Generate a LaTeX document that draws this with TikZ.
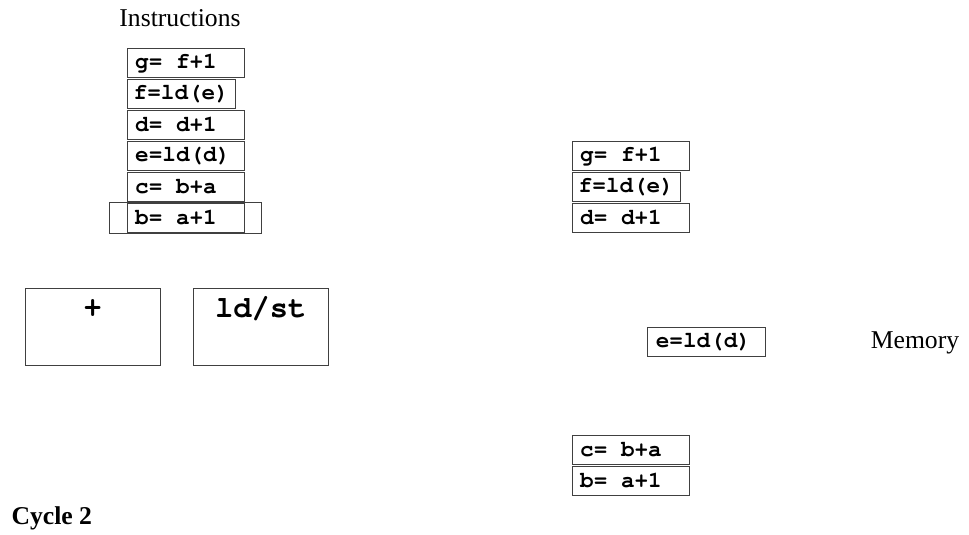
\documentclass[tikz,border=0pt]{standalone}
\usepackage[T1]{fontenc}
\usepackage{fontspec}
\setmainfont{Liberation Serif}
\newcommand{\codefam}{\fontencoding{T1}\fontfamily{pcr}\fontseries{b}}
\newcommand{\codefont}{\codefam\fontsize{12.9}{14}\selectfont}
\newcommand{\opfont}{\codefam\fontsize{17.3}{19}\selectfont}
\newcommand{\labelfont}{\fontsize{14.6}{18}\selectfont}

\tikzset{
  instrbox/.style={draw=black!75, font=\codefont, inner xsep=0.13cm, inner ysep=0pt, minimum height=0.58cm, anchor=north west},
  instr/.style={instrbox, inner xsep=0.16cm, text width=2.026cm, text justified,
    execute at begin node={\spaceskip=0.6em\relax}},
  unit/.style={draw=black!75, minimum width=2.7cm, minimum height=1.546cm},
  oplabel/.style={font=\opfont, inner sep=0pt},
  caption/.style={font=\labelfont, inner sep=0pt},
}

\begin{document}
\begin{tikzpicture}[x=0.02cm, y=-0.02cm, line width=0.6pt]
  \useasboundingbox (0,0) rectangle (969,534);

  % 指令队列
  \node[caption] (instrtitle) at (180,18) {Instructions};
  \node[draw=black!75, minimum width=3.034cm, minimum height=0.62cm] (issue) at (185.2,217.8) {};
  \node[instr] (ig) at (126.7,47.7) {g= f+1};
  \node[instrbox] (if) at (126.7,78.7) {f=ld(e)};
  \node[instr] (id) at (126.7,109.7) {d= d+1};
  \node[instr] (ie) at (126.7,140.7) {e=ld(d)};
  \node[instr] (ic) at (126.7,171.7) {c= b+a};
  \node[instr] (ib) at (126.7,202.7) {b= a+1};

  % 功能单元
  \node[unit] (add) at (92.8,326.7) {};
  \node[oplabel] (addlbl) at (92.8,309.3) {+};
  \node[unit] (ldst) at (260.8,326.7) {};
  \node[oplabel] (ldstlbl) at (260.8,309.3) {ld/st};

  % 存储器一侧
  \node[instr] (rg) at (571.7,140.7) {g= f+1};
  \node[instrbox] (rf) at (571.7,171.7) {f=ld(e)};
  \node[instr] (rd) at (571.7,202.7) {d= d+1};
  \node[instr] (re) at (647.3,326.7) {e=ld(d)};
  \node[instr] (rc) at (571.7,435) {c= b+a};
  \node[instr] (rb) at (571.7,466) {b= a+1};
  \node[caption] (mem) at (915,343) {Memory};

  \node[caption, anchor=west, font=\labelfont\bfseries] (cycle) at (11,518) {Cycle 2};
\end{tikzpicture}
\end{document}
